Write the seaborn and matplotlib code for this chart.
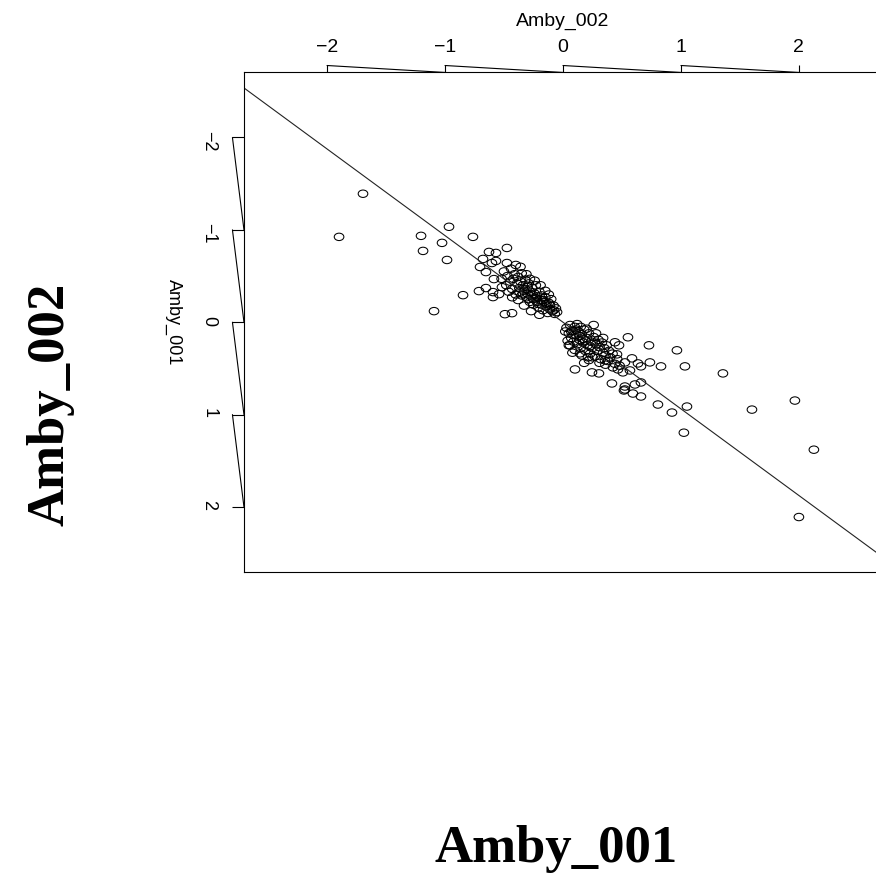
import numpy as np
import pandas as pd
import matplotlib
matplotlib.use("Agg")
import matplotlib.pyplot as plt
import matplotlib.transforms as mtransforms
from matplotlib.path import Path
import seaborn as sns

# Scattered points on the negative side (Amby_002, Amby_001)
tail_neg_002 = [-1.695, -1.898, -1.203, -0.966, -1.025, -1.186, -0.983, -0.763, -1.093, -0.847,
                -0.712, -0.653, -0.593, -0.593, -0.542, -0.492, -0.432, -0.475, -0.627, -0.568,
                -0.678, -0.703, -0.653, -0.602, -0.568, -0.475, -0.585, -0.517]
tail_neg_001 = [-1.391, -0.924, -0.935, -1.033, -0.859, -0.772, -0.674, -0.924, -0.120, -0.293,
                -0.337, -0.370, -0.326, -0.272, -0.304, -0.087, -0.098, -0.804, -0.761, -0.750,
                -0.685, -0.598, -0.543, -0.641, -0.663, -0.641, -0.467, -0.380]

# Dense cluster just below zero
core_neg_002 = [-0.52, -0.50, -0.48, -0.47, -0.45, -0.44, -0.43, -0.42, -0.41, -0.40,
                -0.39, -0.38, -0.37, -0.36, -0.35, -0.35, -0.34, -0.33, -0.32, -0.31,
                -0.30, -0.30, -0.29, -0.28, -0.28, -0.27, -0.26, -0.25, -0.25, -0.24,
                -0.23, -0.22, -0.22, -0.21, -0.20, -0.19, -0.18, -0.18, -0.17, -0.16,
                -0.15, -0.14, -0.13, -0.12, -0.11, -0.10, -0.09, -0.08, -0.07, -0.06,
                -0.05, -0.33, -0.38, -0.27, -0.20, -0.15, -0.43, -0.46, -0.24, -0.31,
                -0.36, -0.19, -0.12, -0.28, -0.40, -0.34, -0.29, -0.26, -0.23, -0.21,
                -0.17, -0.14, -0.32, -0.37, -0.11, -0.08]
core_neg_001 = [-0.47, -0.55, -0.40, -0.50, -0.44, -0.58, -0.36, -0.47, -0.52, -0.30,
                -0.42, -0.49, -0.37, -0.44, -0.29, -0.53, -0.40, -0.34, -0.46, -0.27,
                -0.38, -0.31, -0.42, -0.22, -0.33, -0.28, -0.37, -0.25, -0.19, -0.31,
                -0.40, -0.22, -0.28, -0.16, -0.33, -0.24, -0.19, -0.29, -0.13, -0.22,
                -0.27, -0.17, -0.10, -0.21, -0.14, -0.25, -0.12, -0.18, -0.09, -0.15,
                -0.11, -0.18, -0.24, -0.12, -0.08, -0.34, -0.27, -0.33, -0.45, -0.52,
                -0.60, -0.40, -0.30, -0.47, -0.62, -0.31, -0.25, -0.30, -0.26, -0.20,
                -0.24, -0.20, -0.36, -0.33, -0.19, -0.13]

# Dense cluster just above zero
core_pos_002 = [0.03, 0.05, 0.06, 0.07, 0.08, 0.09, 0.10, 0.11, 0.12, 0.13,
                0.14, 0.15, 0.16, 0.17, 0.18, 0.19, 0.20, 0.21, 0.22, 0.23,
                0.24, 0.25, 0.26, 0.27, 0.28, 0.29, 0.30, 0.31, 0.32, 0.33,
                0.34, 0.35, 0.36, 0.37, 0.38, 0.39, 0.40, 0.42, 0.44, 0.46,
                0.48, 0.04, 0.10, 0.16, 0.22, 0.12, 0.20, 0.28, 0.34, 0.05,
                0.08, 0.15, 0.25, 0.31, 0.18, 0.02, 0.26, 0.36, 0.07, 0.11,
                0.14, 0.19, 0.23, 0.27, 0.09, 0.17]
core_pos_001 = [0.06, 0.12, 0.03, 0.17, 0.09, 0.21, 0.05, 0.14, 0.24, 0.10,
                0.19, 0.28, 0.13, 0.22, 0.08, 0.31, 0.17, 0.25, 0.12, 0.34,
                0.21, 0.28, 0.16, 0.37, 0.24, 0.31, 0.19, 0.27, 0.40, 0.22,
                0.33, 0.28, 0.36, 0.25, 0.42, 0.31, 0.38, 0.34, 0.45, 0.40,
                0.47, 0.20, 0.30, 0.36, 0.41, 0.02, 0.07, 0.12, 0.17, 0.25,
                0.33, 0.05, 0.38, 0.44, 0.44, 0.10, 0.03, 0.46, 0.10, 0.08,
                0.15, 0.20, 0.26, 0.22, 0.14, 0.18]

# Scattered points on the positive side
tail_pos_002 = [0.551, 0.729, 0.966, 0.737, 0.831, 1.034, 1.356, 1.966, 1.602, 2.127,
                2.000, 0.805, 0.924, 1.051, 1.025, 0.415, 0.525, 0.593, 0.661, 0.102,
                0.246, 0.305, 0.525, 0.517, 0.610, 0.661, 0.424, 0.466, 0.508, 0.568,
                0.525, 0.585, 0.636, 0.661, 0.441, 0.475, 0.458, 0.144, 0.212, 0.356,
                0.059]
tail_pos_001 = [0.163, 0.250, 0.304, 0.435, 0.478, 0.478, 0.554, 0.848, 0.946, 1.380,
                2.109, 0.891, 0.978, 0.913, 1.196, 0.663, 0.728, 0.772, 0.804, 0.511,
                0.543, 0.554, 0.696, 0.739, 0.674, 0.652, 0.489, 0.511, 0.543, 0.522,
                0.435, 0.391, 0.446, 0.478, 0.217, 0.250, 0.348, 0.337, 0.380, 0.413,
                0.250]

# fitted line  Amby_001 = a + b * Amby_002
fit_intercept = 0.0
fit_slope = 0.938

tick_vals = [-2, -1, 0, 1, 2]
axis_lim = 2.704

df = pd.DataFrame({
    'Amby_002': tail_neg_002 + core_neg_002 + core_pos_002 + tail_pos_002,
    'Amby_001': tail_neg_001 + core_neg_001 + core_pos_001 + tail_pos_001,
})

sns.set_style("white")
plt.rcParams['font.family'] = ['Liberation Sans', 'DejaVu Sans']
plt.rcParams['text.color'] = 'black'
plt.rcParams['axes.labelcolor'] = 'black'
plt.rcParams['xtick.color'] = 'black'
plt.rcParams['ytick.color'] = 'black'

fig = plt.figure(figsize=(8.76, 8.75), dpi=100)
ax = fig.add_axes([0.2785, 0.3463, 0.7283, 0.5709])

# wide open ellipse marker (the original picture is stretched sideways)
ellipse = Path.unit_circle().transformed(mtransforms.Affine2D().scale(1.3, 1.0))
sns.scatterplot(data=df, x='Amby_002', y='Amby_001', marker=ellipse, s=48,
                facecolor='none', edgecolor='black', linewidth=0.75, ax=ax)

ax.axline((0, fit_intercept), slope=fit_slope, color='#222222', lw=0.8)

ax.set_xlim(-axis_lim, axis_lim)
ax.set_ylim(axis_lim, -axis_lim)

for s in ax.spines.values():
    s.set_color('black')
    s.set_linewidth(0.8)

# top axis
ax.xaxis.tick_top()
ax.xaxis.set_label_position('top')
ax.set_xticks(tick_vals)
ax.set_xticklabels([f"{t}".replace('-', '\u2212') for t in tick_vals])
x_len = 5
ax.tick_params(axis='x', top=True, bottom=False, length=x_len, width=0.8,
               pad=7, labelsize=14, color='black', labelcolor='black')
ax.set_xlabel('Amby_002', fontsize=14)
ax.xaxis.set_label_coords(0.5, 1.103)
ax.xaxis.label.set_va('center')

# left axis
ax.set_yticks(tick_vals)
ax.set_yticklabels([f"{t}".replace('-', '\u2212') for t in tick_vals])
y_len = 8.3
ax.tick_params(axis='y', left=True, right=False, length=y_len, width=0.8,
               pad=11, labelsize=13, labelrotation=-90, color='black', labelcolor='black')
ax.set_ylabel('Amby_001', fontsize=13, rotation=-90)
ax.yaxis.set_label_coords(-0.1097, 0.5)
ax.yaxis.label.set_va('center')

# slanted lines joining the ticks
bbox = ax.get_position()
x_frac = x_len / 72 * fig.dpi / (bbox.height * fig.get_figheight() * fig.dpi)
y_frac = y_len / 72 * fig.dpi / (bbox.width * fig.get_figwidth() * fig.dpi)
tr_top = mtransforms.blended_transform_factory(ax.transData, ax.transAxes)
tr_left = mtransforms.blended_transform_factory(ax.transAxes, ax.transData)
for t in tick_vals[:-1]:
    ax.plot([t, t + 1], [1 + x_frac, 1], transform=tr_top, clip_on=False,
            color='black', lw=0.8)
    ax.plot([-y_frac, 0], [t, t + 1], transform=tr_left, clip_on=False,
            color='black', lw=0.8)

# big outer labels
fig.text(0.058, 0.538, 'Amby_002', rotation=90, ha='center', va='center',
         family='Liberation Serif', fontweight='bold', fontsize=38, color='black')
fig.text(0.635, 0.0149, 'Amby_001', ha='center', va='baseline',
         family='Liberation Serif', fontweight='bold', fontsize=38, color='black')

fig.savefig('out.png', dpi=100)
